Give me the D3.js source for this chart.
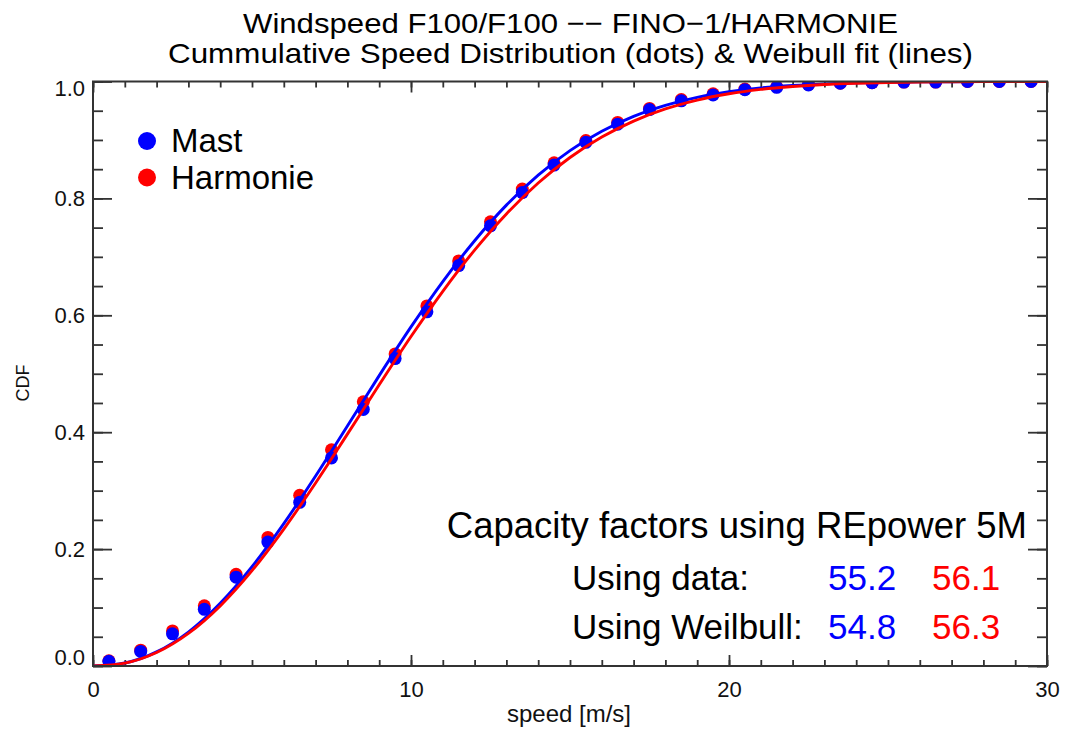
<!DOCTYPE html>
<html>
<head>
<meta charset="utf-8">
<script src="https://cdn.jsdelivr.net/npm/d3@7/dist/d3.min.js"></script>
<style>
  body { margin: 0; background: #fff; }
  svg { display: block; font-family: "Liberation Sans", Arial, sans-serif; }
</style>
</head>
<body>
<svg id="chart" width="1067" height="731"></svg>
<script>
// ---- data ----
const titleLines = ["Windspeed F100/F100 \u2212\u2212 FINO\u22121/HARMONIE",
                    "Cummulative Speed Distribution (dots) & Weibull fit (lines)"];
const speedBins = [0.5,1.5,2.5,3.5,4.5,5.5,6.5,7.5,8.5,9.5,10.5,11.5,12.5,13.5,14.5,
                   15.5,16.5,17.5,18.5,19.5,20.5,21.5,22.5,23.5,24.5,25.5,26.5,27.5,28.5,29.5];
const mastCdf = [0.008,0.025,0.055,0.097,0.152,0.212,0.280,0.356,0.439,0.526,0.606,0.685,0.753,0.810,0.857,
                 0.896,0.927,0.952,0.967,0.977,0.986,0.990,0.994,0.997,0.998,0.999,0.999,1.000,1.000,1.000];
const harmCdf = [0.009,0.027,0.060,0.103,0.157,0.220,0.292,0.370,0.452,0.534,0.616,0.693,0.760,0.816,0.861,
                 0.899,0.930,0.954,0.969,0.979,0.987,0.991,0.995,0.997,0.998,0.999,0.999,1.000,1.000,1.000];
const fitSpeeds = [0,1,2,3,4,5,6,7,8,9,10,11,12,13,14,15,16,17,18,19,20,21,22,23,24,25,26,27,28,29,30];
const mastFit = [0,0.0052,0.0241,0.0581,0.1073,0.1699,0.2436,0.3250,0.4106,0.4968,0.5801,0.6577,0.7276,0.7885,
                 0.8398,0.8818,0.9148,0.9403,0.9592,0.9729,0.9824,0.9890,0.9932,0.9960,0.9977,0.9987,0.9993,
                 0.9996,0.9998,0.9999,0.9999];
const harmFit = [0,0.0050,0.0230,0.0557,0.1028,0.1631,0.2343,0.3132,0.3967,0.4812,0.5637,0.6411,0.7115,0.7734,
                 0.8263,0.8700,0.9050,0.9323,0.9530,0.9682,0.9790,0.9865,0.9915,0.9949,0.9969,0.9982,0.9990,
                 0.9994,0.9997,0.9998,0.9999];
const seriesNames = ["Mast", "Harmonie"];
const seriesColors = ["#0000ff", "#ff0000"];
const xMajorTicks = [0,10,20,30];
const yMajorTicks = [0,0.2,0.4,0.6,0.8,1.0];
const capTitle = "Capacity factors using REpower 5M";
const capRows = ["Using data:", "Using Weilbull:"];
const capMast = ["55.2", "54.8"];
const capHarm = ["56.1", "56.3"];

// ---- layout ----
const svg = d3.select("#chart");
const L = 93, R = 1047, T = 81.5, B = 666;
const x = d3.scaleLinear().domain([0,30]).range([L,R]);
const y = d3.scaleLinear().domain([0,1]).range([B,T]);
const axisCol = "#333";

svg.append("defs").append("clipPath").attr("id","clip")
  .append("rect").attr("x",L).attr("y",T).attr("width",R-L).attr("height",B-T);

// title
const tLen = [655, 805];
titleLines.forEach((t,i) => {
  svg.append("text").attr("x",(i===0?243:168)).attr("y",i===0?33:63)
    .attr("font-size",28.5).attr("textLength",tLen[i]).attr("lengthAdjust","spacingAndGlyphs")
    .attr("fill","#000").text(t);
});

// axes helpers
function styleAxis(g){ g.select(".domain").remove(); g.selectAll("line").attr("stroke",axisCol).attr("stroke-width",1.8); }
const xMinor = d3.range(0,31,1), yMinor = d3.range(0,1.0001,0.05);

// bottom
svg.append("g").attr("transform",`translate(0,${B})`)
  .call(d3.axisBottom(x).tickValues(xMinor).tickSizeInner(-6).tickSizeOuter(0).tickFormat(""))
  .call(styleAxis);
svg.append("g").attr("transform",`translate(0,${B})`)
  .call(d3.axisBottom(x).tickValues(xMajorTicks).tickSizeInner(-11).tickSizeOuter(0).tickPadding(15).tickFormat(d3.format("d")))
  .call(styleAxis)
  .call(g => g.selectAll("text").attr("font-size",22).attr("fill","#111").attr("font-family","Liberation Sans, Arial, sans-serif"));
// top
svg.append("g").attr("transform",`translate(0,${T})`)
  .call(d3.axisTop(x).tickValues(xMinor).tickSizeInner(-6).tickSizeOuter(0).tickFormat(""))
  .call(styleAxis);
svg.append("g").attr("transform",`translate(0,${T})`)
  .call(d3.axisTop(x).tickValues(xMajorTicks).tickSizeInner(-11).tickSizeOuter(0).tickFormat(""))
  .call(styleAxis);
// left
svg.append("g").attr("transform",`translate(${L},0)`)
  .call(d3.axisLeft(y).tickValues(yMinor).tickSizeInner(-10).tickSizeOuter(0).tickFormat(""))
  .call(styleAxis);
const yl = svg.append("g").attr("transform",`translate(${L},0)`)
  .call(d3.axisLeft(y).tickValues(yMajorTicks).tickSizeInner(-19).tickSizeOuter(0).tickPadding(8).tickFormat(d3.format(".1f")))
  .call(styleAxis);
yl.selectAll("text").attr("font-size",22).attr("fill","#111").attr("font-family","Liberation Sans, Arial, sans-serif")
  .attr("dy", d => d===1 ? "0.62em" : (d===0 ? "-0.05em" : "0.32em"));
// right
svg.append("g").attr("transform",`translate(${R},0)`)
  .call(d3.axisRight(y).tickValues(yMinor).tickSizeInner(-10).tickSizeOuter(0).tickFormat(""))
  .call(styleAxis);
svg.append("g").attr("transform",`translate(${R},0)`)
  .call(d3.axisRight(y).tickValues(yMajorTicks).tickSizeInner(-19).tickSizeOuter(0).tickFormat(""))
  .call(styleAxis);

// axis labels
svg.append("text").attr("x",569).attr("y",722).attr("text-anchor","middle")
  .attr("font-size",24).attr("fill","#111").text("speed [m/s]");
svg.append("text").attr("transform","translate(29,383) rotate(-90)").attr("text-anchor","middle")
  .attr("font-size",18).attr("fill","#111").text("CDF");

// plot
const plot = svg.append("g").attr("clip-path","url(#clip)");
const dotSets = [mastCdf, harmCdf];
[1,0].forEach(s => {
  plot.append("g").selectAll("circle").data(speedBins).join("circle")
    .attr("cx", d => x(d)).attr("cy", (d,i) => y(dotSets[s][i])).attr("r", 6.5)
    .attr("fill", seriesColors[s]);
});
const line = d3.line().x(d => x(d[0])).y(d => y(d[1])).curve(d3.curveMonotoneX);
[mastFit, harmFit].forEach((f,s) => {
  plot.append("path").datum(fitSpeeds.map((v,i)=>[v,f[i]]))
    .attr("d", line).attr("fill","none").attr("stroke",seriesColors[s]).attr("stroke-width",2.9);
});

// frame
svg.append("rect").attr("x",L).attr("y",T).attr("width",R-L).attr("height",B-T)
  .attr("fill","none").attr("stroke",axisCol).attr("stroke-width",2);

// legend
seriesNames.forEach((n,i) => {
  svg.append("circle").attr("cx",147).attr("cy",141+i*36.5).attr("r",9).attr("fill",seriesColors[i]);
  svg.append("text").attr("x",171).attr("y",152+i*36.5).attr("font-size",33).attr("fill","#000").text(n);
});

// capacity factor annotation
svg.append("text").attr("x",1027).attr("y",538).attr("text-anchor","end")
  .attr("font-size",36.5).attr("fill","#000").text(capTitle);
capRows.forEach((r,i) => {
  const yy = 590 + i*49;
  svg.append("text").attr("x",572).attr("y",yy).attr("font-size",35).attr("fill","#000").text(r);
  svg.append("text").attr("x",828).attr("y",yy).attr("font-size",35).attr("fill",seriesColors[0]).text(capMast[i]);
  svg.append("text").attr("x",932).attr("y",yy).attr("font-size",35).attr("fill",seriesColors[1]).text(capHarm[i]);
});
</script>
</body>
</html>
